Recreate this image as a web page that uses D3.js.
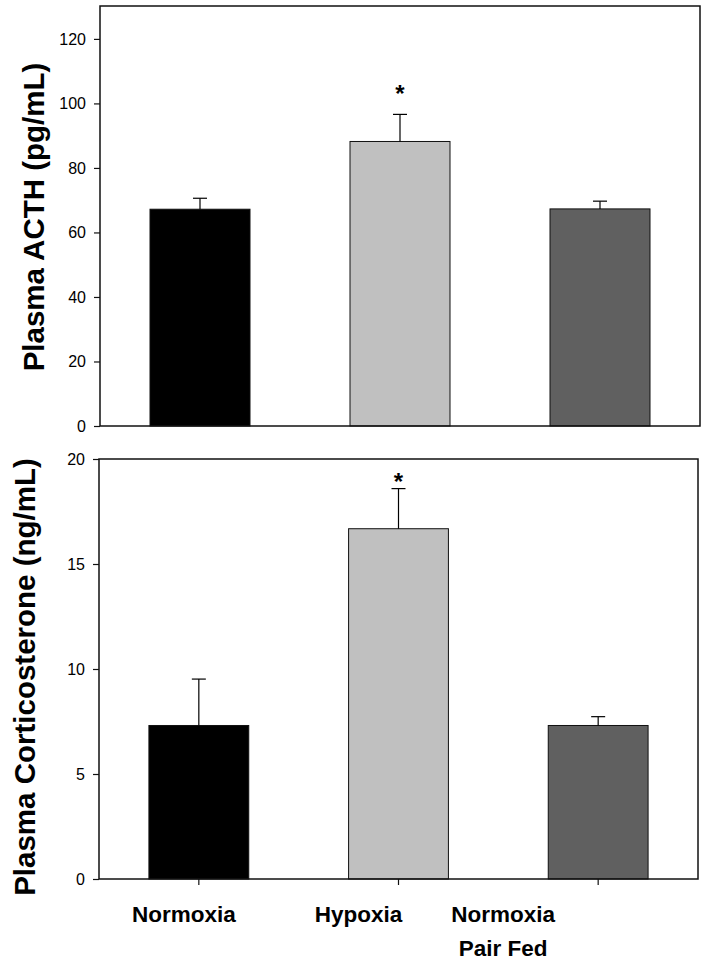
<!DOCTYPE html>
<html>
<head>
<meta charset="utf-8">
<script src="https://cdn.jsdelivr.net/npm/d3@7"></script>
<style>
  body { margin: 0; background: #fff; }
  text { font-family: "Liberation Sans", Arial, sans-serif; }
</style>
</head>
<body>
<script>
const groups = ["Normoxia", "Hypoxia", "Normoxia Pair Fed"]
const groupLines = [["Normoxia"], ["Hypoxia"], ["Normoxia", "Pair Fed"]]
const barColors = ["#000000", "#c0c0c0", "#606060"]

const acthMeans = [67.2, 88.2, 67.3]
const acthErr = [3.4, 8.4, 2.4]
const acthTicks = [0, 20, 40, 60, 80, 100, 120]

const corticoMeans = [7.31, 16.68, 7.31]
const corticoErr = [2.21, 1.91, 0.42]
const corticoTicks = [0, 5, 10, 15, 20]

// significance markers: group index and value height of the star
const acthStars = [{ i: 1, v: 104.7 }]
const corticoStars = [{ i: 1, v: 19.2 }]

// horizontal nudges of the category labels (px from band centre)
const labelShift = [-15, -40, -95]

const width = 710, height = 969

const svg = d3.select("body").append("svg")
    .attr("width", width)
    .attr("height", height)

function drawPanel(opts) {
    const { left, right, top, bottom, ymax, means, errs, ticks, stars, title, titleX, titleY, xLabels } = opts

    const x = d3.scaleBand()
        .domain(groups)
        .range([left, right])
        .paddingInner(0.5)
        .paddingOuter(0.25)

    const y = d3.scaleLinear()
        .domain([0, ymax])
        .range([bottom, top])

    const g = svg.append("g")

    g.selectAll("rect.bar")
        .data(means)
        .join("rect")
        .attr("class", "bar")
        .attr("x", (d, i) => x(groups[i]))
        .attr("width", x.bandwidth())
        .attr("y", d => y(d))
        .attr("height", d => y(0) - y(d))
        .attr("fill", (d, i) => barColors[i])
        .attr("stroke", "#111")
        .attr("stroke-width", 1)

    // upper error bars
    const eb = g.selectAll("g.err")
        .data(means)
        .join("g")
        .attr("class", "err")
    eb.append("line")
        .attr("x1", (d, i) => x(groups[i]) + x.bandwidth() / 2)
        .attr("x2", (d, i) => x(groups[i]) + x.bandwidth() / 2)
        .attr("y1", d => y(d))
        .attr("y2", (d, i) => y(d + errs[i]))
        .attr("stroke", "#000")
        .attr("stroke-width", 1.2)
    eb.append("line")
        .attr("x1", (d, i) => x(groups[i]) + x.bandwidth() / 2 - 7)
        .attr("x2", (d, i) => x(groups[i]) + x.bandwidth() / 2 + 7)
        .attr("y1", (d, i) => y(d + errs[i]))
        .attr("y2", (d, i) => y(d + errs[i]))
        .attr("stroke", "#000")
        .attr("stroke-width", 1.2)

    g.selectAll("text.star")
        .data(stars)
        .join("text")
        .attr("class", "star")
        .attr("x", d => x(groups[d.i]) + x.bandwidth() / 2)
        .attr("y", d => y(d.v) + 14)
        .attr("text-anchor", "middle")
        .attr("font-size", 24)
        .attr("font-weight", "bold")
        .text("*")

    // frame
    g.append("rect")
        .attr("x", left)
        .attr("y", top)
        .attr("width", right - left)
        .attr("height", bottom - top)
        .attr("fill", "none")
        .attr("stroke", "#111")
        .attr("stroke-width", 1.5)

    const yAxis = g.append("g")
        .attr("transform", `translate(${left},0)`)
        .call(d3.axisLeft(y).tickValues(ticks).tickSize(6).tickPadding(8).tickFormat(d3.format("d")))
    yAxis.select(".domain").remove()
    yAxis.selectAll("line").attr("stroke", "#111").attr("stroke-width", 1.2)
    yAxis.selectAll("text")
        .attr("font-size", 16)
        .attr("fill", "#000")
        .style("font-family", "Liberation Sans, Arial, sans-serif")

    g.append("text")
        .attr("transform", `translate(${titleX},${titleY}) rotate(-90)`)
        .attr("text-anchor", "middle")
        .attr("font-size", 29.5)
        .attr("font-weight", "bold")
        .text(title)

    if (xLabels) {
        const xAxis = g.append("g")
            .attr("transform", `translate(0,${bottom})`)
            .call(d3.axisBottom(x).tickSize(6).tickFormat(""))
        xAxis.select(".domain").remove()
        xAxis.selectAll("line").attr("stroke", "#111").attr("stroke-width", 1.2)

        const lab = g.selectAll("text.cat")
            .data(groups)
            .join("text")
            .attr("class", "cat")
            .attr("text-anchor", "middle")
            .attr("font-size", 22.5)
            .attr("font-weight", "bold")
            .attr("transform", (d, i) => `translate(${x(d) + x.bandwidth() / 2 + labelShift[i]},${bottom + 43})`)
        lab.selectAll("tspan")
            .data((d, i) => groupLines[i])
            .join("tspan")
            .attr("x", 0)
            .attr("dy", (d, j) => j === 0 ? 0 : 33.5)
            .text(d => d)
    }
}

drawPanel({
    left: 100, right: 700, top: 6, bottom: 426, ymax: 130.2,
    means: acthMeans, errs: acthErr, ticks: acthTicks, stars: acthStars,
    title: "Plasma ACTH (pg/mL)", titleX: 43.5, titleY: 217, xLabels: false
})

drawPanel({
    left: 99, right: 698, top: 459, bottom: 879, ymax: 20,
    means: corticoMeans, errs: corticoErr, ticks: corticoTicks, stars: corticoStars,
    title: "Plasma Corticosterone (ng/mL)", titleX: 35, titleY: 677, xLabels: true
})
</script>
</body>
</html>
